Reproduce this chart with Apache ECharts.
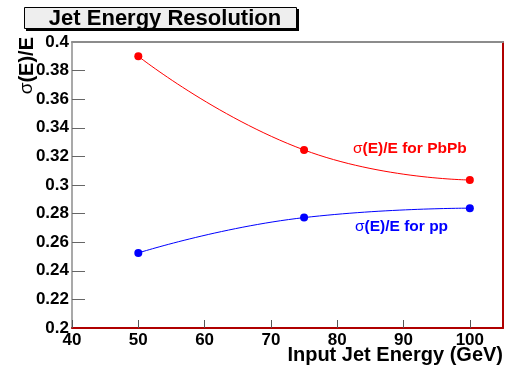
<!DOCTYPE html>
<html>
<head>
<meta charset="utf-8">
<script src="https://cdn.jsdelivr.net/npm/echarts@6/dist/echarts.min.js"></script>
<style>
html,body{margin:0;padding:0;background:#fff;}
#chart{width:507px;height:365px;}
</style>
</head>
<body>
<div id="chart"></div>
<script>
// Data
const energies = [50, 75, 100];
const resPbPb = [0.390, 0.3245, 0.3035];
const resPP = [0.2525, 0.2772, 0.2838];
const titleText = 'Jet Energy Resolution';
const xTitle = 'Input Jet Energy (GeV)';
const yTitle = 'σ(E)/E';
const labelPbPb = 'for PbPb';
const labelPP = 'for pp';

const FONT = '"Liberation Sans", Arial, Helvetica, sans-serif';
const chart = echarts.init(document.getElementById('chart'), null, {renderer: 'canvas'});

const grid = {left: 72, top: 42, width: 431, height: 286};

chart.setOption({
  animation: false,
  backgroundColor: '#ffffff',
  grid: grid,
  xAxis: [{
    type: 'value', min: 40, max: 105, interval: 10, position: 'bottom', z: 5,
    axisLine: {show: true, onZero: false, lineStyle: {color: '#b00000', width: 2}},
    axisTick: {show: true, inside: true, length: 8, lineStyle: {color: '#555', width: 1}},
    axisLabel: {show: true, margin: 4, showMaxLabel: false, color: '#000', fontFamily: FONT, fontWeight: 'bold', fontSize: 17},
    splitLine: {show: false}
  }, {
    type: 'value', min: 40, max: 105, interval: 10, position: 'top', z: 5,
    axisLine: {show: true, onZero: false, lineStyle: {color: '#8c8c8c', width: 2}},
    axisTick: {show: false}, axisLabel: {show: false}, splitLine: {show: false}
  }],
  yAxis: [{
    type: 'value', min: 0.2, max: 0.4, interval: 0.02, position: 'left', z: 2,
    axisLine: {show: true, onZero: false, lineStyle: {color: '#8c8c8c', width: 1.5}},
    axisTick: {show: true, inside: true, length: 13, lineStyle: {color: '#666', width: 1}},
    axisLabel: {show: true, margin: 3, color: '#000', fontFamily: FONT, fontWeight: 'bold', fontSize: 17,
      formatter: v => String(parseFloat(v.toFixed(2)))},
    splitLine: {show: false}
  }, {
    type: 'value', min: 0.2, max: 0.4, interval: 0.02, position: 'right', z: 5,
    axisLine: {show: true, onZero: false, lineStyle: {color: '#b00000', width: 2}},
    axisTick: {show: false}, axisLabel: {show: false}, splitLine: {show: false}
  }],
  series: [{
    name: 'PbPb', type: 'line', smooth: 0.5,
    data: energies.map((e, i) => [e, resPbPb[i]]),
    symbol: 'circle', symbolSize: 8,
    lineStyle: {color: '#ff0000', width: 1},
    itemStyle: {color: '#ff0000'}
  }, {
    name: 'pp', type: 'line', smooth: 0.5,
    data: energies.map((e, i) => [e, resPP[i]]),
    symbol: 'circle', symbolSize: 8,
    lineStyle: {color: '#0000ff', width: 1},
    itemStyle: {color: '#0000ff'}
  }],
  graphic: [
    // title box shadow + box
    {type: 'rect', shape: {x: 26, y: 9, width: 273, height: 22}, style: {fill: '#000'}, silent: true},
    {type: 'rect', shape: {x: 24.5, y: 7.5, width: 272, height: 21}, style: {fill: '#eeeeee', stroke: '#000', lineWidth: 1}, silent: true},
    {type: 'text', x: 165, y: 19, style: {text: titleText, fill: '#000', font: 'bold 22px ' + FONT, textAlign: 'center', textVerticalAlign: 'middle'}, silent: true},
    // y-axis title
    {type: 'text', x: 27, y: 37, rotation: Math.PI / 2,
      style: {text: '{s|σ}(E)/E', fill: '#000', font: 'bold 20px ' + FONT, textAlign: 'right', textVerticalAlign: 'middle',
        rich: {s: {fontFamily: FONT, fontWeight: 'normal', fontSize: 19, fill: '#000'}}}, silent: true},
    // x-axis title
    {type: 'text', x: 503, y: 355, style: {text: xTitle, fill: '#000', font: 'bold 20px ' + FONT, textAlign: 'right', textVerticalAlign: 'middle'}, silent: true},
    // annotations
    {type: 'text', x: 353, y: 149,
      style: {text: '{s|σ}(E)/E ' + labelPbPb, fill: '#ff0000', font: 'bold 15.5px ' + FONT, textAlign: 'left', textVerticalAlign: 'middle',
        rich: {s: {fontFamily: FONT, fontWeight: 'normal', fontSize: 15.5, fill: '#ff0000'}}}, silent: true},
    {type: 'text', x: 355, y: 227,
      style: {text: '{s|σ}(E)/E ' + labelPP, fill: '#0000ff', font: 'bold 15.5px ' + FONT, textAlign: 'left', textVerticalAlign: 'middle',
        rich: {s: {fontFamily: FONT, fontWeight: 'normal', fontSize: 15.5, fill: '#0000ff'}}}, silent: true}
  ]
});
</script>
</body>
</html>
